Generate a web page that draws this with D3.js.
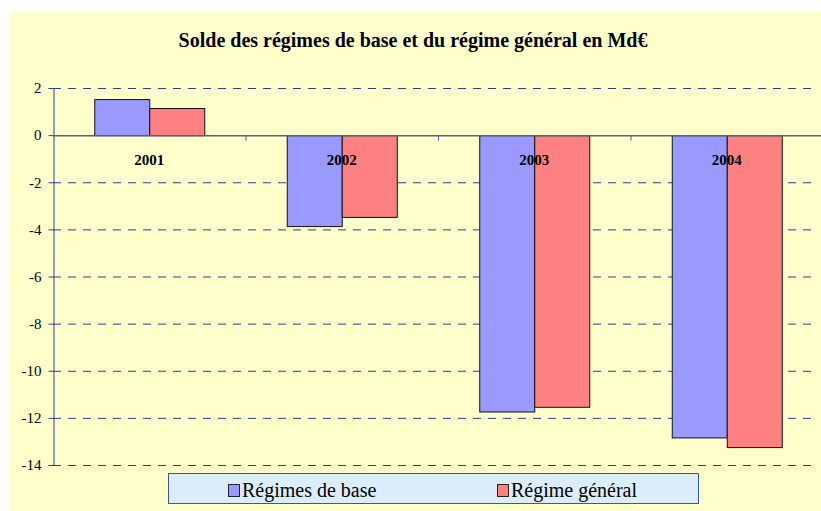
<!DOCTYPE html>
<html>
<head>
<meta charset="utf-8">
<script src="https://cdn.jsdelivr.net/npm/d3@7"></script>
<style>
  body { margin: 0; background: #ffffff; }
  svg { display: block; }
</style>
</head>
<body>
<svg id="chart" width="821" height="511"></svg>
<script>
// Data (Md€)
var years = ["2001", "2002", "2003", "2004"];
var seriesNames = ["Régimes de base", "Régime général"];
var regimesBase = [1.53, -3.86, -11.73, -12.83];
var regimeGeneral = [1.15, -3.47, -11.53, -13.24];
var yTicks = [2, 0, -2, -4, -6, -8, -10, -12, -14];
var colors = ["#9999ff", "#ff8080"];

var svg = d3.select("#chart");
var serif = "'Liberation Serif', 'Times New Roman', serif";

// yellow chart area
svg.append("rect")
    .attr("x", 9).attr("y", 11)
    .attr("width", 812).attr("height", 500)
    .attr("fill", "#ffffcc");

// title
svg.append("text")
    .attr("x", 413).attr("y", 47)
    .attr("text-anchor", "middle")
    .attr("font-family", serif)
    .attr("font-weight", "bold")
    .attr("font-size", "20px")
    .attr("fill", "#000")
    .text("Solde des régimes de base et du régime général en Md€");

// scales
var x = d3.scaleBand()
    .domain(years)
    .range([53, 823])
    .padding(0);
var xs = d3.scaleBand()
    .domain(seriesNames)
    .range([0, x.bandwidth()])
    .paddingInner(0)
    .paddingOuter(0.75);
var y = d3.scaleLinear()
    .domain([-14, 2])
    .range([465, 88]);

// dashed gridlines (not on zero)
svg.append("g")
    .selectAll("line")
    .data(yTicks.filter(function (d) { return d !== 0; }))
    .enter().append("line")
    .attr("x1", 53).attr("x2", 811)
    .attr("y1", function (d) { return y(d) + 0.5; })
    .attr("y2", function (d) { return y(d) + 0.5; })
    .attr("stroke", "#26428f")
    .attr("stroke-width", 1)
    .attr("stroke-dasharray", "8,7");

// y axis
var yAxis = svg.append("g")
    .attr("transform", "translate(53.5,0)")
    .call(d3.axisLeft(y).tickValues(yTicks).tickSize(5).tickPadding(7)
        .tickFormat(function (d) { return String(d); }));
yAxis.select(".domain").attr("stroke", "#26428f");
yAxis.selectAll(".tick line").attr("stroke", "#26428f");
yAxis.selectAll(".tick text")
    .attr("font-family", serif)
    .attr("font-size", "15px")
    .attr("fill", "#000");

// bars
var data = years.map(function (yr, i) {
    return { year: yr, values: [regimesBase[i], regimeGeneral[i]] };
});
var groups = svg.append("g")
    .selectAll("g")
    .data(data)
    .enter().append("g")
    .attr("transform", function (d) { return "translate(" + x(d.year) + ",0)"; });
groups.selectAll("rect")
    .data(function (d) {
        return d.values.map(function (v, j) { return { name: seriesNames[j], value: v, idx: j }; });
    })
    .enter().append("rect")
    .attr("x", function (d) { return xs(d.name) + 0.5; })
    .attr("y", function (d) { return Math.min(y(d.value), y(0)) + 0.5; })
    .attr("width", xs.bandwidth())
    .attr("height", function (d) { return Math.abs(y(d.value) - y(0)); })
    .attr("fill", function (d) { return colors[d.idx]; })
    .attr("stroke", "#111")
    .attr("stroke-width", 1);

// zero line with category ticks
var xAxis = svg.append("g")
    .attr("transform", "translate(0," + (y(0) + 0.5) + ")");
xAxis.append("line")
    .attr("x1", 53).attr("x2", 821)
    .attr("stroke", "#4c6388")
    .attr("stroke-width", 1.5);
xAxis.selectAll(".cat-tick")
    .data(years.slice(1))
    .enter().append("line")
    .attr("class", "cat-tick")
    .attr("x1", function (d) { return x(d) + 0.5; })
    .attr("x2", function (d) { return x(d) + 0.5; })
    .attr("y1", 0).attr("y2", 5)
    .attr("stroke", "#4c6388");

// category labels
svg.append("g")
    .selectAll("text")
    .data(years)
    .enter().append("text")
    .attr("x", function (d) { return x(d) + x.bandwidth() / 2; })
    .attr("y", 165)
    .attr("text-anchor", "middle")
    .attr("font-family", serif)
    .attr("font-weight", "bold")
    .attr("font-size", "15px")
    .attr("fill", "#000")
    .text(function (d) { return d; });

// legend
var legend = svg.append("g");
legend.append("rect")
    .attr("x", 168.5).attr("y", 473.5)
    .attr("width", 530).attr("height", 30)
    .attr("fill", "#dbedfa")
    .attr("stroke", "#3a5a93")
    .attr("stroke-width", 1);
var legendX = [228, 497];
var items = legend.selectAll(".item")
    .data(seriesNames)
    .enter().append("g")
    .attr("class", "item")
    .attr("transform", function (d, i) { return "translate(" + legendX[i] + ",0)"; });
items.append("rect")
    .attr("x", 0.5).attr("y", 484.5)
    .attr("width", 11).attr("height", 12)
    .attr("fill", function (d, i) { return colors[i]; })
    .attr("stroke", "#222");
items.append("text")
    .attr("x", 14).attr("y", 497)
    .attr("font-family", serif)
    .attr("font-size", "20px")
    .attr("fill", "#000")
    .text(function (d) { return d; });
</script>
</body>
</html>
